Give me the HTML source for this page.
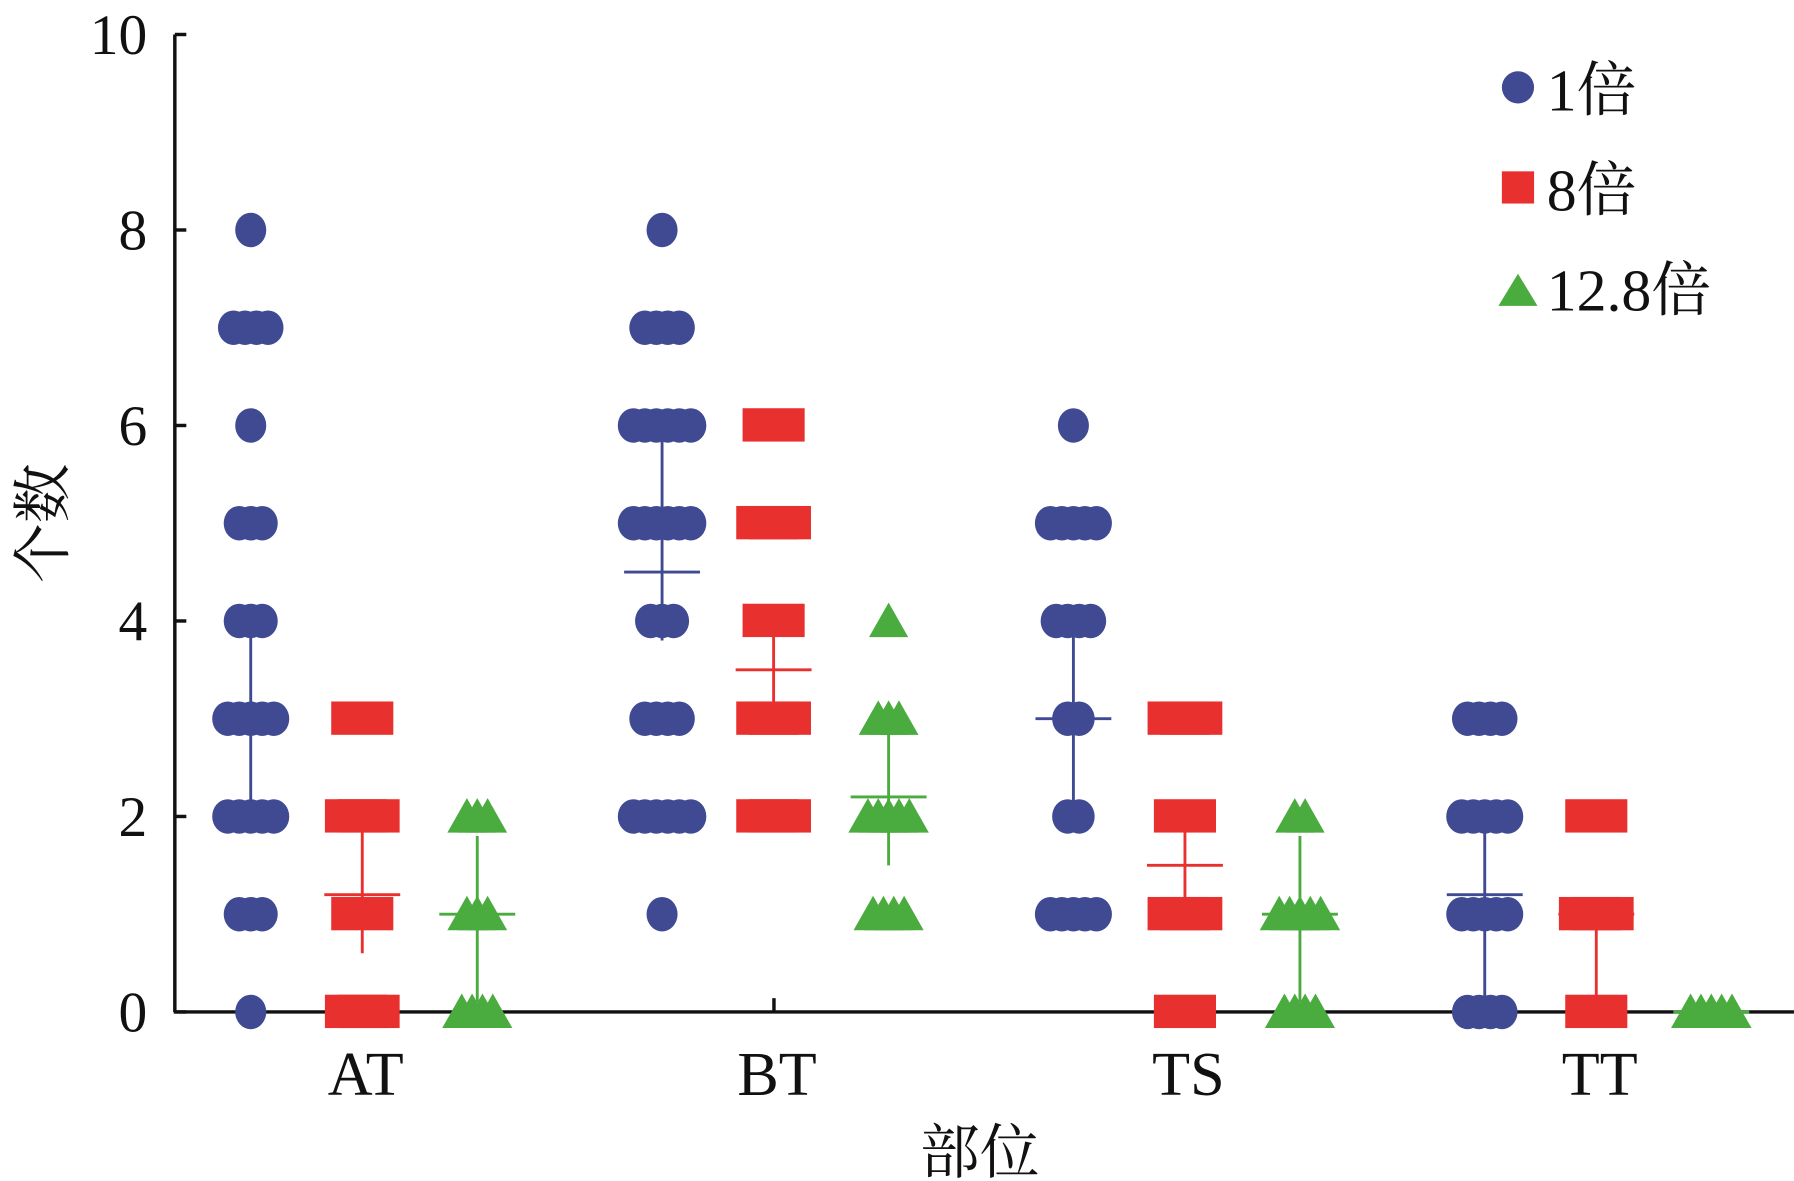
<!DOCTYPE html>
<html><head><meta charset="utf-8"><style>
html,body{margin:0;padding:0;background:#fff;}
svg{display:block;}
text{font-family:"Liberation Serif","Noto Serif CJK SC",serif;fill:#111;}
</style></head><body>
<svg id="chart" width="1794" height="1181" viewBox="0 0 1560 1027" xmlns="http://www.w3.org/2000/svg">
<g id="axes"></g>
<g id="marks"></g>
<g id="legend">
  <circle cx="1320" cy="76" r="14" fill="#3f4a93"/>
  <text x="1345" y="96" font-size="52">1倍</text>
  <rect x="1306" y="149" width="28" height="28" fill="#e8312f"/>
  <text x="1345" y="183" font-size="52">8倍</text>
  <polygon points="1320,238 1337,266 1303,266" fill="#4aab3e"/>
  <text x="1345" y="270" font-size="52">12.8倍</text>
</g>
</svg>
<script>
const categories = ["AT","BT","TS","TT"];
const yTicks = [0,2,4,6,8,10];
// counts of observations at value index 0..8
const counts1x = [
  [1,3,5,5,3,3,1,4,1],
  [0,1,6,4,3,6,6,4,1],
  [0,5,2,2,4,5,1,0,0],
  [4,5,5,4,0,0,0,0,0]
];
const counts8x = [
  [2,1,2,1,0,0,0,0,0],
  [0,0,2,2,1,2,1,0,0],
  [1,2,1,2,0,0,0,0,0],
  [1,2,1,0,0,0,0,0,0]
];
const counts128x = [
  [4,3,3,0,0,0,0,0,0],
  [0,4,5,3,1,0,0,0,0],
  [4,5,2,0,0,0,0,0,0],
  [5,0,0,0,0,0,0,0,0]
];
const mean1x = [3.0,4.5,3.0,1.2];
const lo1x = [2.0,3.8,2.0,0.1];
const hi1x = [3.9,5.9,4.0,1.9];
const mean8x = [1.2,3.5,1.5,1.0];
const lo8x = [0.6,3.0,1.1,0.1];
const hi8x = [1.85,3.85,1.85,0.85];
const mean128x = [1.0,2.2,1.0,0.0];
const lo128x = [0.1,1.5,0.1,0.0];
const hi128x = [1.8,2.9,1.8,0.0];

const NS="http://www.w3.org/2000/svg";
const X0=152,X1=1560,Y0=880,YT=30;
function yScale(v){return Y0-(v/10)*(Y0-YT);}
function xCat(i){return 315+i*357.7;}
function mk(tag,attrs,parent){const e=document.createElementNS(NS,tag);for(const k in attrs)e.setAttribute(k,attrs[k]);parent.appendChild(e);return e;}
const axes=document.getElementById('axes'), marks=document.getElementById('marks');

let l=mk('line',{x1:X0,y1:YT,x2:X0,y2:Y0,stroke:'#111','stroke-width':3},axes);


l=mk('line',{x1:X0-1,y1:Y0,x2:X1,y2:Y0,stroke:'#111','stroke-width':3},axes);


yTicks.forEach(v=>{
  const y=yScale(v);
  const t=mk('line',{x1:X0,y1:y,x2:X0+10,y2:y,stroke:'#111','stroke-width':3},axes);
  
  
  const tx=mk('text',{x:128,y:y+17,'font-size':50,'text-anchor':'end'},axes);
  tx.textContent=v;
  
  
});
const tk=mk('line',{x1:673,y1:Y0,x2:673,y2:Y0-12,stroke:'#111','stroke-width':3},axes);


categories.forEach((c,i)=>{
  const tx=mk('text',{x:xCat(i)+3,y:952,'font-size':54,'text-anchor':'middle'},axes);
  tx.textContent=c;
  
  
});
let yt=mk('text',{x:0,y:0,'font-size':52,'text-anchor':'middle',transform:'translate(55,455) rotate(-90)'},axes);
yt.textContent='个数';


let xt=mk('text',{x:852,y:1020,'font-size':52,'text-anchor':'middle'},axes);
xt.textContent='部位';



const series=[
 {name:'1x',counts:counts1x,mean:mean1x,lo:lo1x,hi:hi1x,off:-97,color:'#3f4a93',shape:'circle'},
 {name:'8x',counts:counts8x,mean:mean8x,lo:lo8x,hi:hi8x,off:0,color:'#e8312f',shape:'square'},
 {name:'12-8x',counts:counts128x,mean:mean128x,lo:lo128x,hi:hi128x,off:100,color:'#4aab3e',shape:'triangle'}
];
series.forEach(s=>{
  categories.forEach((c,i)=>{
    const cx=xCat(i)+s.off;
    // error bar
    const eb=mk('line',{x1:cx,y1:yScale(s.lo[i]),x2:cx,y2:yScale(s.hi[i]),stroke:s.color,'stroke-width':2.5},marks);
    
    
    const ml=mk('line',{x1:cx-33,y1:yScale(s.mean[i]),x2:cx+33,y2:yScale(s.mean[i]),stroke:s.color,'stroke-width':2.5},marks);
    
    
  });
});
series.forEach(s=>{
  categories.forEach((c,i)=>{
    const cx=xCat(i)+s.off;
    s.counts[i].forEach((n,v)=>{
      const y=yScale(v);
      const sp = s.shape==='circle'?10:(s.shape==='square'?11:9);
      for(let k=0;k<n;k++){
        const x=cx+(k-(n-1)/2)*sp;
        let e;
        if(s.shape==='circle') e=mk('ellipse',{cx:x,cy:y,rx:13.5,ry:15,fill:s.color},marks);
        else if(s.shape==='square') e=mk('rect',{x:x-27,y:y-15,width:54,height:29,fill:s.color},marks);
        else e=mk('polygon',{points:(x)+','+(y-16)+' '+(x+17)+','+(y+14)+' '+(x-17)+','+(y+14),fill:s.color},marks);
        
        
      }
    });
  });
});
</script>
</body></html>
